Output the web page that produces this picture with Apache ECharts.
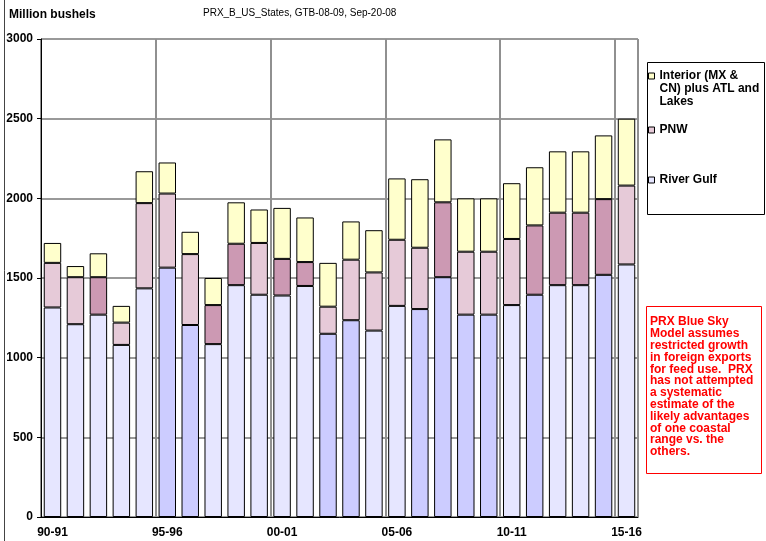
<!DOCTYPE html>
<html>
<head>
<meta charset="utf-8">
<script src="https://cdn.jsdelivr.net/npm/echarts@6/dist/echarts.min.js"></script>
<style>
  html, body { margin: 0; padding: 0; background: #fff; }
  #chart { width: 766px; height: 541px; }
</style>
</head>
<body>
<div id="chart"></div>
<script>
// crop years, one bar each
const years = [
  "90-91", "91-92", "92-93", "93-94", "94-95", "95-96", "96-97", "97-98",
  "98-99", "99-00", "00-01", "01-02", "02-03", "03-04", "04-05", "05-06",
  "06-07", "07-08", "08-09", "09-10", "10-11", "11-12", "12-13", "13-14",
  "14-15", "15-16",
];

// million bushels per region (stack segments)
const riverGulf = [
  1315, 1210, 1270, 1080, 1435, 1565, 1205, 1085, 1455, 1395, 1390, 1450, 1150,
  1235, 1170, 1325, 1305, 1505, 1270, 1270, 1330, 1395, 1455, 1455, 1520, 1585,
];
const pnw = [
  280, 295, 235, 140, 535, 465, 445, 245, 260, 325, 230, 150, 170,
  380, 365, 415, 385, 470, 395, 395, 415, 435, 455, 455, 475, 495,
];
const interior = [
  125, 70, 150, 105, 200, 195, 140, 170, 260, 210, 320, 280, 275,
  240, 265, 385, 430, 395, 335, 335, 350, 365, 385, 385, 400, 420,
];

// bars drawn with the darker shade
const riverGulfShaded = [5, 6, 12, 13, 16, 17, 18, 19, 21, 24];
const pnwShaded = [2, 7, 8, 10, 11, 17, 21, 22, 23, 24];

const yTicks = [0, 500, 1000, 1500, 2000, 2500, 3000];

const noteLines = [
  "PRX Blue Sky",
  "Model assumes",
  "restricted growth",
  "in foreign exports",
  "for feed use.  PRX",
  "has not attempted",
  "a systematic",
  "estimate of the",
  "likely advantages",
  "of one coastal",
  "range vs. the",
  "others.",
];

const FONT = "Arial, 'Liberation Sans', sans-serif";

const colors = {
  gulf: "#E6E6FF",
  gulfDark: "#CCCCFF",
  pnw: "#E6CAD8",
  pnwDark: "#CC99B3",
  interior: "#FFFFCC",
};

const interiorName = "Interior (MX & CN) plus ATL and Lakes";

function shaded(values, marks, dark) {
  return values.map((v, i) =>
    marks.includes(i) ? { value: v, itemStyle: { color: dark } } : v
  );
}

const barStyle = { borderColor: "#000", borderWidth: 1 };

function legendAt(name, color, top, formatter) {
  return {
    data: [{ name: name, itemStyle: { color: color } }],
    orient: "vertical",
    left: 648,
    top: top,
    padding: 0,
    itemWidth: 6,
    itemHeight: 6,
    icon: "rect",
    itemStyle: { borderColor: "#000", borderWidth: 1 },
    selectedMode: false,
    formatter: formatter,
    textStyle: {
      fontFamily: FONT,
      fontSize: 12,
      fontWeight: "bold",
      color: "#000",
      lineHeight: 13,
    },
  };
}

const chart = echarts.init(document.getElementById("chart"), null, {
  renderer: "canvas",
});

const option = {
  animation: false,
  backgroundColor: "#fff",
  textStyle: { fontFamily: FONT },
  grid: {
    left: 41,
    right: 128,
    top: 39,
    bottom: 24,
    show: true,
    borderColor: "#808080",
    borderWidth: 1,
  },
  legend: [
    // two empty lines on top keep the icon next to the first text line
    legendAt(interiorName, colors.interior, 43.5,
      () => "\n\nInterior (MX &\nCN) plus ATL and\nLakes"),
    legendAt("PNW", colors.pnw, 123.5),
    legendAt("River Gulf", colors.gulf, 173.5),
  ],
  xAxis: {
    type: "category",
    data: years,
    axisLine: { lineStyle: { color: "#000", width: 1 } },
    axisTick: { interval: 4, length: 4, lineStyle: { color: "#808080" } },
    axisLabel: {
      interval: 4,
      margin: 10,
      fontFamily: FONT,
      fontSize: 12,
      fontWeight: "bold",
      color: "#000",
    },
    splitLine: {
      show: true,
      interval: 4,
      lineStyle: { color: "#909090", width: 2 },
    },
  },
  yAxis: {
    type: "value",
    min: yTicks[0],
    max: yTicks[yTicks.length - 1],
    interval: yTicks[1] - yTicks[0],
    axisLine: { show: true, lineStyle: { color: "#000", width: 1 } },
    axisTick: { show: true, length: 4, lineStyle: { color: "#000" } },
    axisLabel: {
      margin: 8,
      formatter: (v) => String(v),
      fontFamily: FONT,
      fontSize: 12,
      fontWeight: "bold",
      color: "#000",
    },
    splitLine: { lineStyle: { color: "#999", width: 2 } },
  },
  series: [
    {
      name: "River Gulf",
      type: "bar",
      stack: "total",
      barCategoryGap: "24%",
      itemStyle: Object.assign({ color: colors.gulf }, barStyle),
      data: shaded(riverGulf, riverGulfShaded, colors.gulfDark),
    },
    {
      name: "PNW",
      type: "bar",
      stack: "total",
      itemStyle: Object.assign({ color: colors.pnw }, barStyle),
      data: shaded(pnw, pnwShaded, colors.pnwDark),
    },
    {
      name: interiorName,
      type: "bar",
      stack: "total",
      itemStyle: Object.assign({ color: colors.interior }, barStyle),
      data: interior,
    },
  ],
  graphic: [
    {
      type: "line",
      shape: { x1: 4.5, y1: 0, x2: 4.5, y2: 541 },
      style: { stroke: "#444", lineWidth: 1 },
    },
    {
      type: "text",
      left: 9,
      top: 9,
      style: {
        text: "Million bushels",
        font: "bold 12px " + FONT,
        fill: "#000",
      },
    },
    {
      type: "text",
      left: 203,
      top: 8,
      style: {
        text: "PRX_B_US_States, GTB-08-09, Sep-20-08",
        font: "10px " + FONT,
        fill: "#000",
      },
    },
    {
      type: "rect",
      shape: { x: 647.5, y: 62.5, width: 117, height: 152 },
      style: { fill: "none", stroke: "#000", lineWidth: 1 },
      z: -1,
    },
    {
      type: "rect",
      shape: { x: 646.5, y: 306.5, width: 115, height: 167 },
      style: { fill: "#fff", stroke: "#FF0000", lineWidth: 1 },
    },
    {
      type: "text",
      left: 650,
      top: 316,
      style: {
        text: noteLines.join("\n"),
        font: "bold 12px " + FONT,
        lineHeight: 11.8,
        fill: "#FF0000",
      },
    },
  ],
};

chart.setOption(option);
</script>
</body>
</html>
